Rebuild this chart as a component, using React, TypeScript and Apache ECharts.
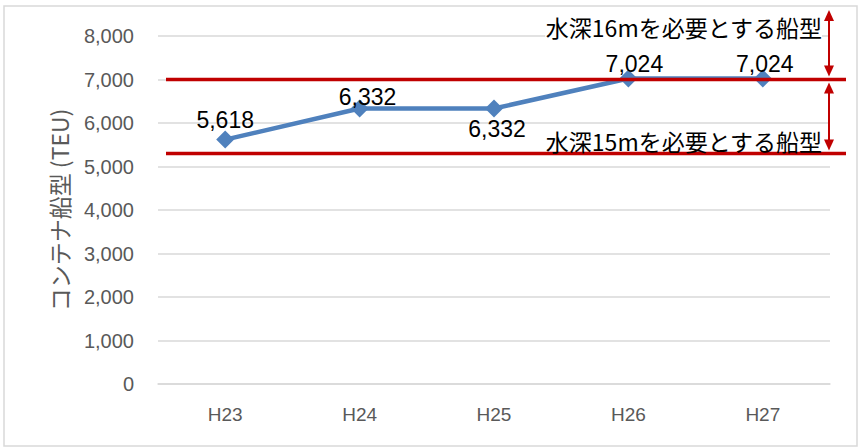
import React, { useEffect, useRef } from "react";
import * as echarts from "echarts";

const categories = ["H23", "H24", "H25", "H26", "H27"];
const values = [5618, 6332, 6332, 7024, 7024];
const labelPositions = ["top", "top", "bottom", "top", "top"];
const labelOffsets = [[0, 0], [8, 8], [3, 0], [6, 6], [2, 6]];
const refLines = [7000, 5300];
const refTexts = ["水深16mを必要とする船型", "水深15mを必要とする船型"];
const yTicks = { min: 0, max: 8000, interval: 1000 };
const yTitle = "コンテナ船型 (TEU)";

const RED = "#C00000";
const CJK = "'Noto Sans CJK JP', 'Noto Sans', sans-serif";
const NUM = "'Liberation Sans', Arial, sans-serif";

export default function App() {
  const ref = useRef<HTMLDivElement>(null);
  useEffect(() => {
    if (!ref.current) return;
    const chart = echarts.init(ref.current, null, { renderer: "svg" });
    chart.setOption({
      animation: false,
      backgroundColor: "#ffffff",
      grid: { left: 158, right: 34, top: 36, bottom: 64 },
      xAxis: {
        type: "category",
        data: categories,
        axisLine: { lineStyle: { color: "#d9d9d9", width: 1.5 } },
        axisTick: { show: false },
        axisLabel: { color: "#595959", fontSize: 19, fontFamily: NUM, margin: 21 },
      },
      yAxis: {
        type: "value",
        min: yTicks.min,
        max: yTicks.max,
        interval: yTicks.interval,
        name: yTitle,
        nameLocation: "middle",
        nameGap: 88,
        nameRotate: 90,
        nameTextStyle: { color: "#595959", fontSize: 23, fontFamily: CJK },
        axisLine: { show: false },
        axisTick: { show: false },
        splitLine: { lineStyle: { color: "#d9d9d9", width: 1.5 } },
        axisLabel: {
          color: "#595959",
          fontSize: 20,
          fontFamily: NUM,
          margin: 24,
          formatter: (v: number) => v.toLocaleString("en-US"),
        },
      },
      series: [
        {
          type: "line",
          data: values.map((v, i) => ({
            value: v,
            label: {
              position: labelPositions[i],
              offset: labelOffsets[i],
            },
          })),
          symbol: "diamond",
          symbolSize: 18,
          lineStyle: { color: "#4F81BD", width: 4.5 },
          itemStyle: { color: "#4F81BD" },
          label: {
            show: true,
            color: "#000",
            fontSize: 23,
            fontFamily: NUM,
            distance: 0,
            lineHeight: 22,
            formatter: (p: any) => Number(p.value).toLocaleString("en-US"),
          },
          z: 5,
        },
      ],
    });

    const y7000 = chart.convertToPixel({ yAxisIndex: 0 }, refLines[0]) as number;
    const y5300 = chart.convertToPixel({ yAxisIndex: 0 }, refLines[1]) as number;
    const ax = 829;
    const head = (tipY: number, up: boolean) => ({
      type: "polygon",
      shape: {
        points: up
          ? [[ax, tipY], [ax - 5, tipY + 11], [ax + 5, tipY + 11]]
          : [[ax, tipY], [ax - 5, tipY - 11], [ax + 5, tipY - 11]],
      },
      style: { fill: RED },
      z: 10,
    });
    const arrow = (y1: number, y2: number) => [
      { type: "line", shape: { x1: ax, y1: y1 + 6, x2: ax, y2: y2 - 6 }, style: { stroke: RED, lineWidth: 2 }, z: 10 },
      head(y1, true),
      head(y2, false),
    ];

    chart.setOption({
      graphic: [
        {
          type: "rect",
          shape: { x: 4, y: 6, width: 853, height: 440 },
          style: { fill: "none", stroke: "#d9d9d9", lineWidth: 1.5 },
          z: 0,
        },
        ...refLines.map((v, i) => {
          const y = i === 0 ? y7000 : y5300;
          return {
            type: "line",
            shape: { x1: 166, y1: y, x2: 846, y2: y },
            style: { stroke: RED, lineWidth: 3.5 },
            z: 8,
          };
        }),
        ...arrow(10, y7000 - 3),
        ...arrow(y7000 + 3, y5300 - 3),
        {
          type: "text",
          x: 822,
          y: 27,
          style: {
            text: refTexts[0],
            fill: "#000",
            font: `23px ${CJK}`,
            textAlign: "right",
            textVerticalAlign: "middle",
            backgroundColor: "#fff",
          },
          z: 9,
        },
        {
          type: "text",
          x: 822,
          y: y5300 - 12,
          style: {
            text: refTexts[1],
            fill: "#000",
            font: `23px ${CJK}`,
            textAlign: "right",
            textVerticalAlign: "middle",
          },
          z: 9,
        },
      ],
    });
    return () => chart.dispose();
  }, []);
  return (
    <div
      ref={ref}
      style={{ position: "fixed", left: 0, top: 0, width: 864, height: 448 }}
    />
  );
}
